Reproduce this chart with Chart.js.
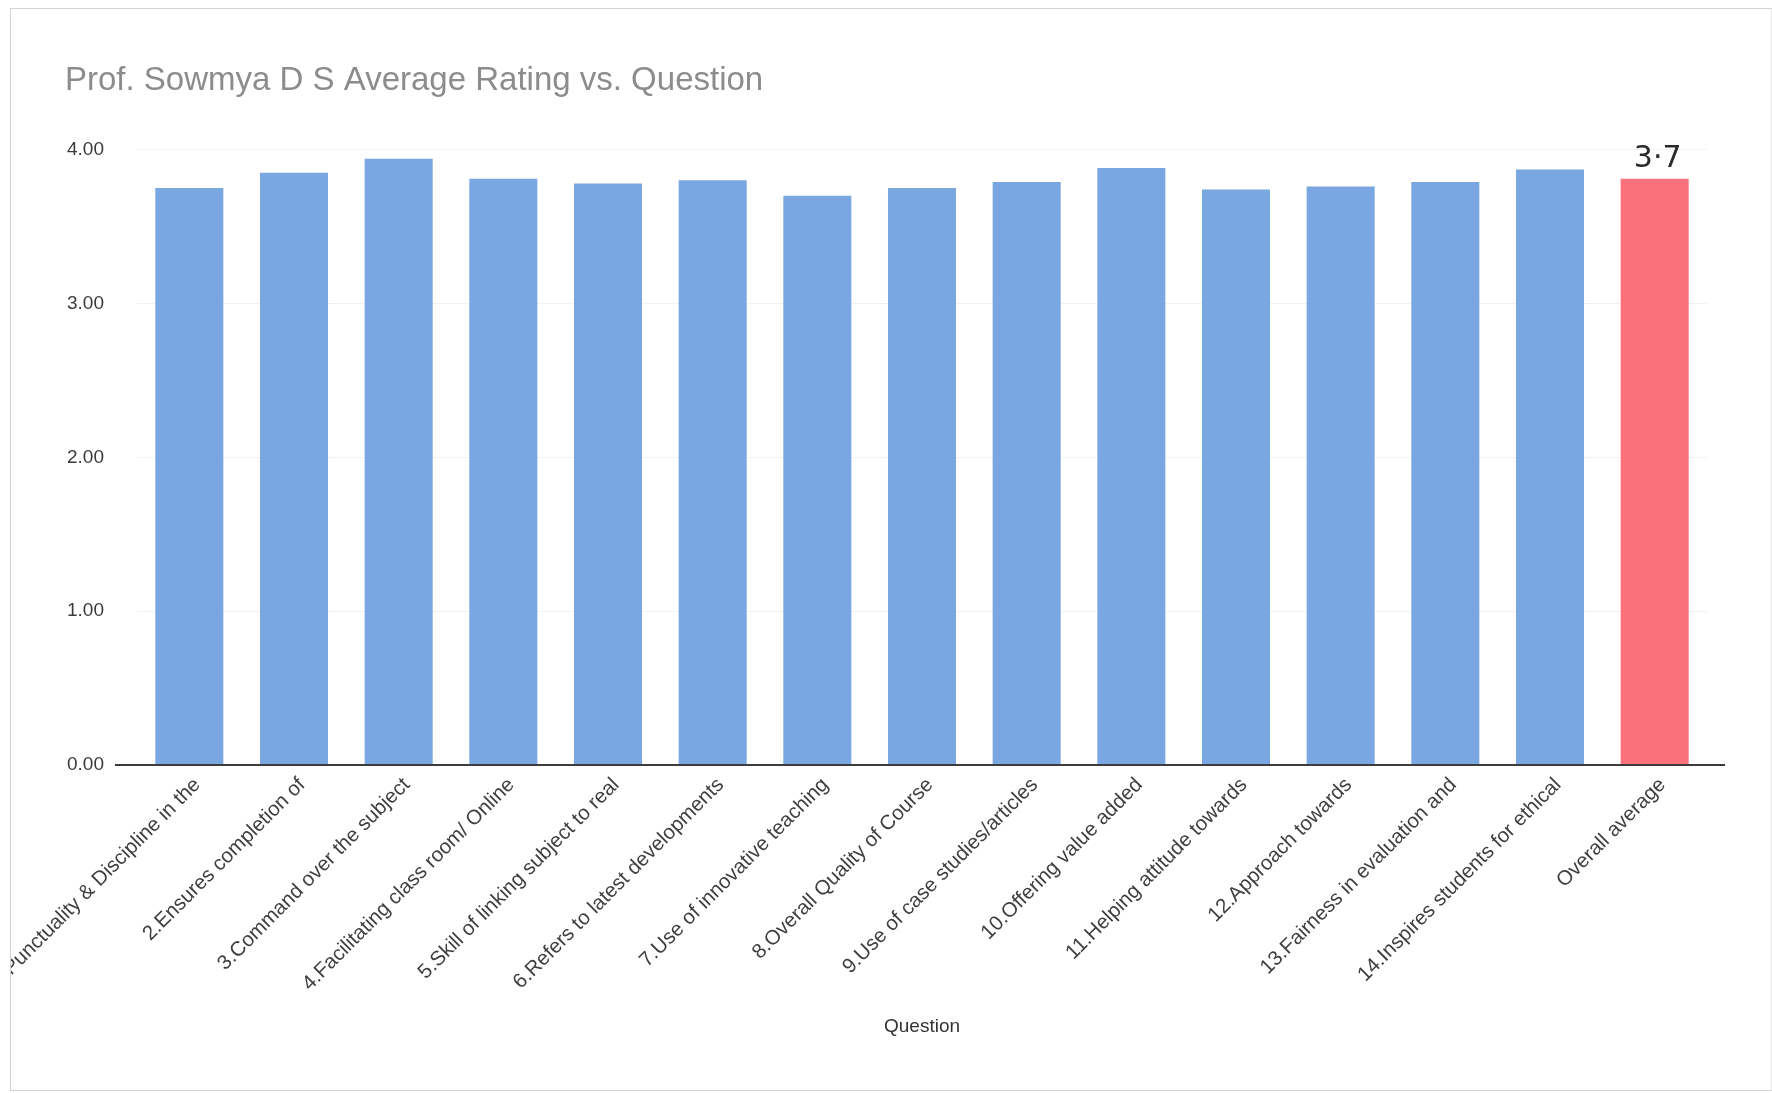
<!DOCTYPE html>
<html>
<head>
<meta charset="utf-8">
<script src="https://cdn.jsdelivr.net/npm/chart.js@4.4.0/dist/chart.umd.min.js"></script>
<style>
  html, body { margin: 0; padding: 0; background: #ffffff; }
  body { width: 1772px; height: 1093px; position: relative; overflow: hidden; }
  #frame { position: absolute; left: 10px; top: 8px; width: 1760px; height: 1081px;
           border: 1px solid #d2d2d2; border-right-color: #e6e6e6; }
  #wrap { position: absolute; left: 11px; top: 9px; width: 1761px; height: 1081px; }
  canvas { display: block; }
</style>
</head>
<body>
<div id="frame"></div>
<div id="wrap"><canvas id="c" width="1761" height="1081"></canvas></div>
<script>
const chartTitle = "Prof. Sowmya D S Average Rating vs. Question";
const xAxisTitle = "Question";
const categories = [
  "1.Punctuality & Discipline in the",
  "2.Ensures completion of",
  "3.Command over the subject",
  "4.Facilitating class room/ Online",
  "5.Skill of linking subject to real",
  "6.Refers to latest developments",
  "7.Use of innovative teaching",
  "8.Overall Quality of Course",
  "9.Use of case studies/articles",
  "10.Offering value added",
  "11.Helping attitude towards",
  "12.Approach towards",
  "13.Fairness in evaluation and",
  "14.Inspires students for ethical",
  "Overall average"
];
const ratings = [3.75, 3.85, 3.94, 3.81, 3.78, 3.80, 3.70, 3.75, 3.79, 3.88, 3.74, 3.76, 3.79, 3.87, 3.81];
const yTickLabels = ["0.00", "1.00", "2.00", "3.00", "4.00"];
const highlightIndex = 14;
const handNote = "3\u00B77";

const BLUE = "#7aa7e1";
const RED = "#fb717b";
const FONT = "'Liberation Sans', Arial, sans-serif";

const axisLinePlugin = {
  id: "axisLine",
  afterDatasetsDraw(chart) {
    const { ctx, chartArea } = chart;
    const y = chart.scales.y.getPixelForValue(0);
    ctx.save();
    ctx.strokeStyle = "#3c3c3c";
    ctx.lineWidth = 2;
    ctx.beginPath();
    ctx.moveTo(chartArea.left - 22, y);
    ctx.lineTo(chartArea.right + 18, y);
    ctx.stroke();
    ctx.restore();
  }
};

const notePlugin = {
  id: "handNote",
  afterDatasetsDraw(chart) {
    const bar = chart.getDatasetMeta(0).data[highlightIndex];
    if (!bar) return;
    const { ctx } = chart;
    ctx.save();
    ctx.fillStyle = "#2a2a2a";
    ctx.font = "30px 'DejaVu Sans', sans-serif";
    ctx.textAlign = "center";
    ctx.textBaseline = "middle";
    ctx.fillText(handNote, bar.x + 3, bar.y - 20);
    ctx.restore();
  }
};

new Chart(document.getElementById("c"), {
  type: "bar",
  data: {
    labels: categories,
    datasets: [{
      label: "Average Rating",
      data: ratings,
      backgroundColor: ratings.map((v, i) => i === highlightIndex ? RED : BLUE),
      borderWidth: 0,
      barPercentage: 0.65,
      categoryPercentage: 1.0
    }]
  },
  options: {
    responsive: false,
    animation: false,
    layout: { padding: { left: 54, right: 65, top: 0, bottom: 0 } },
    plugins: {
      legend: { display: false },
      tooltip: { enabled: false },
      title: {
        display: true,
        text: chartTitle,
        align: "start",
        color: "#8c8c8c",
        font: { family: FONT, size: 33, weight: "normal" },
        padding: { top: 52, bottom: 49 }
      }
    },
    scales: {
      x: {
        grid: { display: false, drawTicks: false },
        border: { display: false },
        ticks: {
          autoSkip: false,
          minRotation: 45,
          maxRotation: 45,
          padding: 8,
          labelOffset: 8,
          color: "#3f3f3f",
          font: { family: FONT, size: 20.5 }
        },
        title: {
          display: true,
          text: xAxisTitle,
          color: "#333333",
          font: { family: FONT, size: 19 },
          padding: { top: 0, bottom: 52 }
        },
        afterFit(scale) {
          scale.paddingLeft = 0;
          scale.paddingRight = 0;
          scale.height = 325;
        }
      },
      y: {
        min: 0,
        max: 4,
        ticks: {
          stepSize: 1,
          padding: 33,
          color: "#3a3a3a",
          font: { family: FONT, size: 19 },
          callback: (v, i) => yTickLabels[i]
        },
        grid: { color: "#f2f2f2", lineWidth: 1, drawTicks: false },
        border: { display: false },
        afterFit(scale) {
          scale.width = 72;
        }
      }
    }
  },
  plugins: [axisLinePlugin, notePlugin]
});
</script>
</body>
</html>
